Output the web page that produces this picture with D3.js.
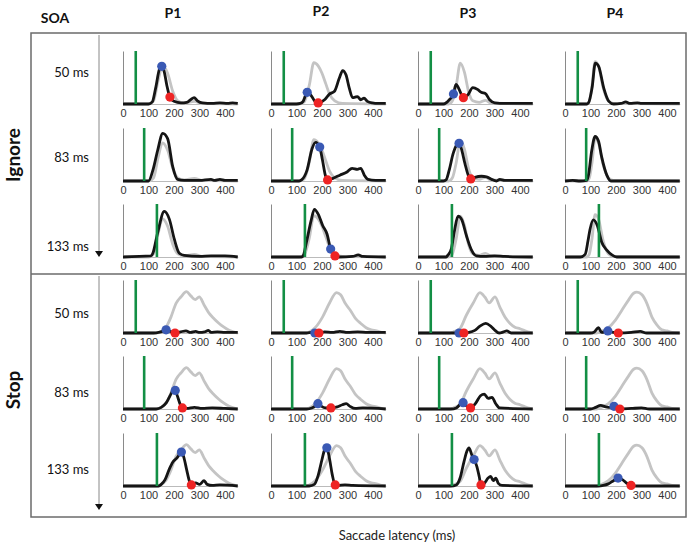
<!DOCTYPE html>
<html><head><meta charset="utf-8">
<script src="https://cdn.jsdelivr.net/npm/d3@7"></script>
<style>body{margin:0;background:#fff}svg{display:block}</style>
</head><body>
<script>
// ---------- DATA ----------
const participants = ["P1","P2","P3","P4"];
const soas = [50, 83, 133];
const soaLabels = ["50 ms","83 ms","133 ms"];
const tasks = ["Ignore","Stop"];
const xTicks = [0,100,200,300,400];

// gray no-signal distributions (per participant)
const grayIgnore = [
  [[0,0],[100,0],[120,0.06],[138,0.45],[155,0.72],[175,0.58],[195,0.24],[215,0.06],[240,0.02],[280,0.05],[310,0.01],[450,0]],
  [[0,0],[110,0],[130,0.04],[150,0.35],[168,0.78],[185,0.72],[200,0.58],[215,0.38],[230,0.18],[250,0.06],[280,0.01],[450,0]],
  [[0,0],[120,0],[135,0.06],[150,0.35],[166,0.77],[182,0.6],[198,0.24],[215,0.06],[240,0.03],[265,0.07],[285,0.02],[450,0]],
  [[0,0],[85,0],[95,0.05],[106,0.35],[118,0.8],[131,0.72],[150,0.3],[170,0.06],[190,0.01],[450,0]]
];
const grayStop = [
  [[0,0],[130,0],[145,0.02],[169,0.11],[188,0.3],[208,0.56],[227,0.68],[249,0.78],[266,0.7],[283,0.63],[299,0.68],[318,0.53],[338,0.37],[357,0.27],[377,0.18],[396,0.11],[416,0.05],[440,0.01],[450,0]],
  [[0,0],[135,0],[150,0.02],[175,0.11],[202,0.3],[229,0.56],[257,0.76],[273,0.72],[291,0.56],[311,0.43],[332,0.27],[352,0.18],[373,0.1],[393,0.06],[414,0.04],[434,0.01],[450,0]],
  [[0,0],[125,0],[138,0.02],[164,0.08],[190,0.34],[216,0.56],[243,0.76],[262,0.68],[279,0.57],[302,0.68],[321,0.49],[341,0.3],[361,0.18],[380,0.11],[400,0.08],[420,0.04],[440,0.01],[450,0]],
  [[0,0],[125,0],[138,0.02],[170,0.1],[197,0.24],[223,0.43],[249,0.62],[269,0.75],[282,0.77],[302,0.72],[321,0.56],[341,0.3],[361,0.15],[380,0.06],[400,0.04],[420,0.01],[450,0]]
];

// black signal-trial distributions: [row][participant]
const blackIgnore50 = [
  [[0,0],[100,0],[115,0.04],[128,0.3],[143,0.66],[152,0.71],[162,0.6],[172,0.35],[184,0.13],[200,0.05],[227,0.02],[250,0.03],[265,0.08],[279,0.12],[292,0.06],[312,0.02],[350,0.01],[380,0.02],[410,0.01],[430,0.02],[450,0.01]],
  [[0,0],[100,0],[115,0.01],[126,0.05],[142,0.22],[150,0.2],[159,0.15],[172,0.05],[185,0.02],[198,0.04],[210,0.08],[230,0.19],[249,0.24],[268,0.49],[281,0.63],[294,0.55],[307,0.3],[320,0.12],[330,0.13],[339,0.14],[352,0.08],[365,0.11],[378,0.05],[397,0.02],[420,0.01],[450,0.01]],
  [[0,0],[100,0],[123,0.08],[139,0.19],[149,0.37],[162,0.27],[178,0.12],[195,0.17],[215,0.31],[235,0.27],[248,0.22],[264,0.2],[281,0.08],[301,0.02],[340,0.01],[450,0.01]],
  [[0,0],[85,0],[92,0.02],[106,0.3],[119,0.77],[132,0.71],[152,0.3],[172,0.05],[191,0],[220,0.01],[238,0.04],[255,0.01],[284,0.02],[300,0.01],[450,0.01]]
];
const blackIgnore83 = [
  [[0,0],[100,0],[117,0.2],[136,0.58],[156,0.9],[175,0.8],[195,0.27],[214,0.03],[240,0.01],[300,0.01],[345,0.03],[360,0.01],[380,0.03],[400,0.01],[450,0.01]],
  [[0,0],[110,0],[120,0.02],[141,0.2],[161,0.61],[175,0.73],[191,0.64],[202,0.39],[213,0.11],[222,0.02],[243,0.05],[270,0.11],[298,0.17],[318,0.24],[339,0.22],[352,0.24],[366,0.11],[380,0.03],[410,0.01],[450,0.01]],
  [[0,0],[100,0],[110,0.02],[122,0.2],[138,0.52],[153,0.69],[161,0.71],[170,0.61],[184,0.33],[197,0.11],[207,0.04],[223,0.07],[249,0.09],[269,0.08],[289,0.03],[308,0],[321,0.03],[340,0.01],[450,0.01]],
  [[0,0],[30,0.01],[60,0],[85,0.01],[92,0.11],[105,0.58],[118,0.84],[131,0.76],[144,0.45],[164,0.11],[180,0],[450,0]]
];
const blackIgnore133 = [
  [[0,0],[110,0.02],[117,0.07],[136,0.46],[162,0.86],[182,0.71],[201,0.34],[221,0.07],[240,0.03],[300,0.01],[345,0.02],[400,0.02],[450,0]],
  [[0,0],[120,0],[126,0.02],[139,0.28],[157,0.68],[170,0.9],[186,0.8],[203,0.59],[220,0.43],[234,0.15],[241,0.09],[251,0.02],[268,0],[320,0.01],[342,0.04],[360,0.01],[450,0]],
  [[0,0],[110,0],[118,0.04],[131,0.16],[144,0.52],[157,0.77],[171,0.71],[190,0.4],[210,0.13],[229,0.02],[260,0.01],[300,0.02],[340,0.01],[450,0]],
  [[0,0],[60,0],[79,0.05],[90,0.3],[98,0.52],[111,0.7],[127,0.59],[144,0.28],[164,0.13],[184,0.04],[203,0],[450,0]]
];
const blackStop50 = [
  [[0,0],[120,0],[140,0.01],[155,0.03],[169,0.06],[185,0.03],[204,0],[225,0.02],[247,0.04],[265,0.01],[285,0.03],[300,0.01],[320,0.02],[335,0.05],[345,0.01],[370,0.02],[400,0.01],[450,0.01]],
  [[0,0],[140,0],[160,0.01],[172,0],[188,0],[210,0.02],[240,0.01],[270,0.03],[300,0.01],[340,0.02],[380,0.01],[450,0.01]],
  [[0,0],[140,0],[161,0],[180,0],[200,0.01],[223,0.05],[243,0.13],[266,0.18],[285,0.13],[302,0.05],[318,0],[335,0.02],[348,0.04],[365,0],[450,0]],
  [[0,0],[100,0],[115,0.02],[131,0.1],[144,0.01],[168,0.04],[190,0.01],[209,0],[260,0.01],[295,0.03],[320,0],[450,0]]
];
const blackStop83 = [
  [[0,0],[130,0],[150,0.03],[170,0.12],[190,0.3],[200,0.38],[205,0.35],[215,0.22],[225,0.08],[233,0.02],[250,0.01],[280,0.03],[310,0.01],[350,0.02],[400,0.01],[450,0]],
  [[0,0],[140,0],[160,0.02],[175,0.06],[184,0.1],[195,0.06],[215,0.02],[235,0.02],[260,0.04],[280,0.08],[295,0.1],[310,0.05],[330,0.01],[360,0.02],[450,0]],
  [[0,0],[130,0],[150,0.02],[168,0.1],[177,0.12],[190,0.06],[206,0.02],[225,0.1],[245,0.25],[260,0.28],[275,0.2],[290,0.22],[305,0.1],[320,0.02],[450,0]],
  [[0,0],[100,0],[120,0.03],[140,0.07],[160,0.04],[180,0.03],[192,0.05],[205,0.02],[215,0],[260,0.01],[300,0.02],[330,0],[450,0]]
];
const blackStop133 = [
  [[0,0],[140,0],[150,0.03],[165,0.12],[180,0.3],[195,0.45],[210,0.52],[222,0.6],[229,0.64],[238,0.55],[250,0.3],[260,0.1],[268,0.02],[285,0.06],[300,0.03],[318,0.1],[330,0.03],[350,0.01],[380,0.02],[450,0]],
  [[0,0],[150,0],[170,0.03],[185,0.2],[200,0.5],[210,0.68],[219,0.72],[230,0.5],[240,0.22],[252,0.02],[262,0.01],[290,0.02],[320,0.01],[450,0]],
  [[0,0],[130,0],[150,0.02],[165,0.15],[180,0.45],[192,0.66],[200,0.72],[210,0.6],[220,0.5],[230,0.38],[240,0.18],[247,0.02],[260,0.05],[275,0.15],[285,0.18],[295,0.1],[305,0.15],[315,0.05],[330,0.01],[450,0]],
  [[0,0],[130,0],[150,0.01],[170,0.04],[190,0.1],[208,0.15],[225,0.12],[240,0.06],[259,0.01],[280,0],[450,0]]
];

// blue / red markers: [row][participant] -> [latency, height] or null
const blueIgnore = [
  [[152,0.71],[142,0.22],[139,0.19],null],
  [null,[191,0.64],[161,0.71],null],
  [null,[234,0.15],null,null]
];
const redIgnore = [
  [[184,0.13],[185,0.02],[178,0.12],null],
  [null,[222,0.02],[207,0.04],null],
  [null,[251,0.02],null,null]
];
const blueStop = [
  [[169,0.06],[172,0],[161,0],[168,0.04]],
  [[205,0.35],[184,0.1],[177,0.12],[192,0.05]],
  [[229,0.64],[219,0.72],[220,0.5],[208,0.15]]
];
const redStop = [
  [[204,0],[188,0],[180,0],[209,0]],
  [[233,0.02],[235,0.02],[206,0.02],[215,0]],
  [[268,0.02],[252,0.02],[247,0.02],[259,0.01]]
];

// ---------- LAYOUT ----------
const W = 688, H = 550;
const colX0 = [123, 271, 418, 565];
const rowBase = [104, 181, 257, 333, 409, 486];
const panelH = 53;
const panelW = 114.75; // 0..450 ms

const svg = d3.select("body").append("svg").attr("width", W).attr("height", H)
  .style("font-family", "Lato, 'Open Sans', sans-serif");

// frame
svg.append("rect").attr("x",31).attr("y",33).attr("width",655).attr("height",484)
  .attr("fill","none").attr("stroke","#6b6b6b").attr("stroke-width",1.5);
svg.append("line").attr("x1",31).attr("x2",686).attr("y1",274).attr("y2",274)
  .attr("stroke","#6b6b6b").attr("stroke-width",1.5);

// headers
svg.append("text").attr("x",55).attr("y",23).attr("text-anchor","middle")
  .attr("font-weight","bold").attr("font-size",14).attr("fill","#111").text("SOA");
const headerY = [18,16,18,18];
participants.forEach((p,i)=>{
  svg.append("text").attr("x",colX0[i]+50).attr("y",headerY[i]).attr("text-anchor","middle")
    .attr("font-weight","bold").attr("font-size",14).attr("fill","#111").text(p);
});

// task labels
const taskCY = [155, 390];
tasks.forEach((t,i)=>{
  svg.append("text").attr("transform",`translate(20,${taskCY[i]}) rotate(-90)`)
    .attr("text-anchor","middle").attr("font-weight","bold").attr("font-size",19).attr("fill","#111").text(t);
});

// SOA labels + arrows
const soaLabelY = [[77,162,251],[318,397,474]];
svg.append("defs").append("marker").attr("id","arr").attr("viewBox","0 0 10 10")
  .attr("refX",5).attr("refY",10).attr("markerWidth",6).attr("markerHeight",6).attr("orient","auto-start-reverse")
  .append("path").attr("d","M0,0 L10,0 L5,10 Z").attr("fill","#111");
const arrowY = [[35,257],[276,510]];
arrowY.forEach(a=>{
  svg.append("line").attr("x1",99).attr("x2",99).attr("y1",a[0]).attr("y2",a[1]-4)
    .attr("stroke","#888").attr("stroke-width",1);
  svg.append("path").attr("d",`M95,${a[1]-6} L103,${a[1]-6} L99,${a[1]} Z`).attr("fill","#111");
});
soaLabelY.forEach(ys=>ys.forEach((y,j)=>{
  svg.append("text").attr("x",89).attr("y",y).attr("text-anchor","end")
    .attr("font-size",13).attr("fill","#111").text(soaLabels[j]);
}));

// x axis title
svg.append("text").attr("x",397).attr("y",540).attr("text-anchor","middle")
  .attr("font-size",13).attr("fill","#222").text("Saccade latency (ms)");

// ---------- PANELS ----------
const blackRows = [blackIgnore50, blackIgnore83, blackIgnore133, blackStop50, blackStop83, blackStop133];
const blueRows = blueIgnore.concat(blueStop);
const redRows = redIgnore.concat(redStop);

rowBase.forEach((base, r)=>{
  const task = r < 3 ? 0 : 1;
  const soa = soas[r % 3];
  colX0.forEach((x0, c)=>{
    const x = d3.scaleLinear().domain([0,450]).range([x0, x0+panelW]);
    const y = d3.scaleLinear().domain([0,1]).range([base, base-panelH]);
    const g = svg.append("g");
    // y axis
    g.append("g").attr("transform",`translate(${x0},0)`)
      .call(d3.axisLeft(y).ticks(0).tickSize(0).tickSizeOuter(0))
      .call(s=>s.select(".domain").attr("stroke","#8a8a8a").attr("stroke-width",1));
    // x axis labels
    g.append("g").attr("transform",`translate(0,${base})`)
      .call(d3.axisBottom(x).tickValues(xTicks).tickSize(0).tickPadding(5))
      .call(s=>s.select(".domain").attr("stroke","#bbb").attr("stroke-width",1))
      .call(s=>s.selectAll("text").attr("font-family","'Liberation Sans', Arial, sans-serif").attr("font-size",11).attr("fill","#333"));
    const line = d3.line().x(d=>x(d[0])).y(d=>y(d[1])).curve(d3.curveMonotoneX);
    const gray = task===0 ? grayIgnore[c] : grayStop[c];
    g.append("path").attr("d", line(gray)).attr("fill","none")
      .attr("stroke","#c4c4c4").attr("stroke-width",2.8).attr("stroke-linejoin","round");
    g.append("path").attr("d", line(blackRows[r][c])).attr("fill","none")
      .attr("stroke","#151515").attr("stroke-width",2.8).attr("stroke-linejoin","round");
    // green SOA line
    g.append("line").attr("x1",x(soa)).attr("x2",x(soa)).attr("y1",base).attr("y2",base-panelH)
      .attr("stroke","#138f45").attr("stroke-width",2.6);
    const b = blueRows[r][c], rd = redRows[r][c];
    if (b) g.append("circle").attr("cx",x(b[0])).attr("cy",y(b[1])).attr("r",4.6).attr("fill","#3a59b4");
    if (rd) g.append("circle").attr("cx",x(rd[0])).attr("cy",y(rd[1])).attr("r",4.6).attr("fill","#ee2424");
  });
});
</script>
</body></html>
